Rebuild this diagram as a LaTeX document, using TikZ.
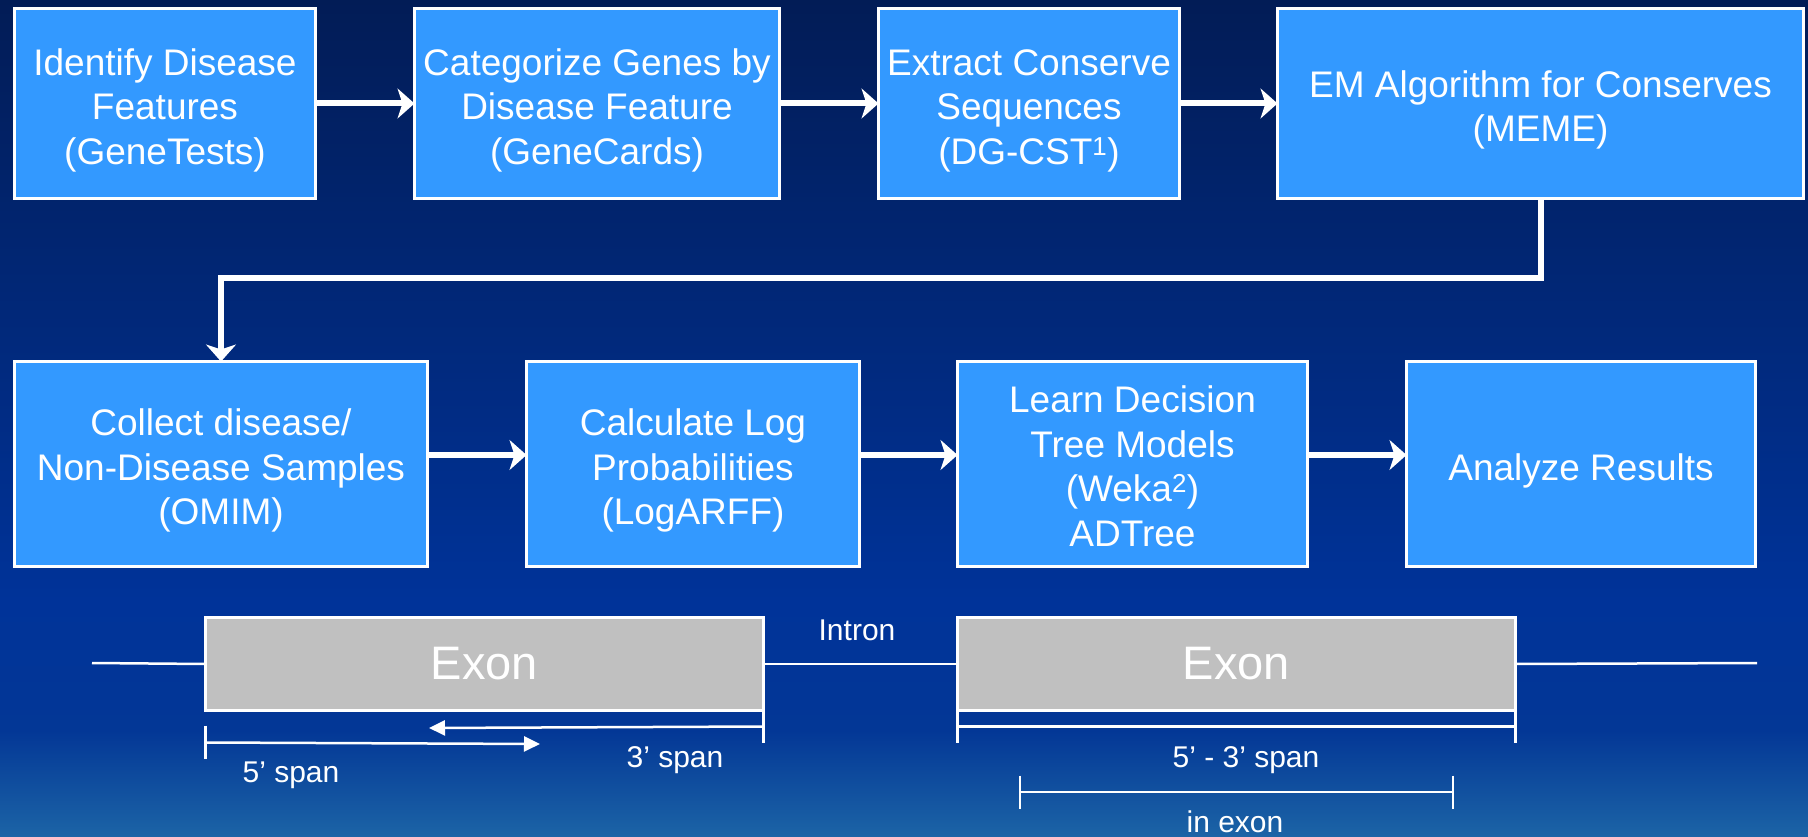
\documentclass[tikz,border=0pt]{standalone}
\usepackage{fontspec}
\setmainfont{Liberation Sans}
\usetikzlibrary{arrows.meta}
\definecolor{boxblue}{RGB}{51,153,255}
\definecolor{bgtop}{RGB}{2,28,86}
\definecolor{bgmid}{RGB}{0,51,153}
\definecolor{bgmidb}{RGB}{3,55,150}
\definecolor{bgbot}{RGB}{28,100,166}
\definecolor{exongray}{RGB}{192,192,192}
\newcommand{\toppad}{\rule{0pt}{40pt}}
\newcommand{\smallpad}{\rule{0pt}{31pt}}
\begin{document}
\begin{tikzpicture}[x=1pt,y=-1pt,
  stepbox/.style={draw=white, line width=3pt, fill=boxblue, text=white, align=center,
    inner sep=0pt, outer sep=0pt, font=\fontsize{37}{44.5}\selectfont},
  exonbox/.style={draw=white, line width=3pt, fill=exongray, text=white, inner sep=0pt,
    outer sep=0pt, minimum width=558pt, minimum height=93pt, font=\fontsize{47}{52}\selectfont},
  bigarrow/.style={draw=white, line width=6pt, -{Stealth[length=17pt,width=30pt,inset=5pt]}},
  spanline/.style={draw=white, line width=2.5pt},
  smallarrow/.style={spanline, -{Triangle[length=16pt,width=15pt]}},
  lbl/.style={text=white, inner sep=0pt, font=\fontsize{30}{34}\selectfont}
]
\useasboundingbox (0,0) rectangle (1808,837);
\shade[top color=bgtop, bottom color=bgmid] (0,0) rectangle (1808,601);
\shade[top color=bgmid, bottom color=bgmidb] (0,600) rectangle (1808,731);
\shade[top color=bgmidb, bottom color=bgbot] (0,730) rectangle (1808,837);

% row 1
\node[stepbox, minimum width=301pt, minimum height=190pt] (b1) at (165,103.5)
  {\toppad Identify Disease\\Features\\(GeneTests)};
\node[stepbox, minimum width=365pt, minimum height=190pt] (b2) at (597,103.5)
  {\toppad Categorize Genes by\\Disease Feature\\(GeneCards)};
\node[stepbox, minimum width=301pt, minimum height=190pt] (b3) at (1029,103.5)
  {\toppad Extract Conserve\\Sequences\\(DG-CST\textsuperscript{1})};
\node[stepbox, minimum width=526pt, minimum height=190pt] (b4) at (1540.5,103.5)
  {\toppad EM Algorithm for Conserves\\(MEME)};
% row 2
\node[stepbox, minimum width=413pt, minimum height=205pt] (b5) at (221,464)
  {\toppad Collect disease/\\Non-Disease Samples\\(OMIM)};
\node[stepbox, minimum width=333pt, minimum height=205pt] (b6) at (693,464)
  {\toppad Calculate Log\\Probabilities\\(LogARFF)};
\node[stepbox, minimum width=350pt, minimum height=205pt] (b7) at (1132.5,464)
  {\smallpad Learn Decision\\Tree Models\\(Weka\textsuperscript{2})\\ADTree};
\node[stepbox, minimum width=349pt, minimum height=205pt] (b8) at (1581,464)
  {\toppad Analyze Results};

\draw[bigarrow] (b1.east) -- (b2.west);
\draw[bigarrow] (b2.east) -- (b3.west);
\draw[bigarrow] (b3.east) -- (b4.west);
\draw[bigarrow] (b4.south) -- ++(0,80) -| (b5.north);
\draw[bigarrow] ([yshift=9pt]b5.east) -- ([yshift=9pt]b6.west);
\draw[bigarrow] ([yshift=9pt]b6.east) -- ([yshift=9pt]b7.west);
\draw[bigarrow] ([yshift=9pt]b7.east) -- ([yshift=9pt]b8.west);

% gene structure
\coordinate (lineL) at (92,663);
\coordinate (lineR) at (1757,663);
\node[exonbox] (e1) at (484.5,664) {Exon};
\node[exonbox] (e2) at (1236.5,664) {Exon};
\draw[spanline] (lineL) -- (e1.west);
\draw[spanline] (e1.east) -- (e2.west);
\draw[spanline] (e2.east) -- (lineR);
\node[lbl] (intron) at (857,630) {Intron};

% spans under first exon
\coordinate (tipL) at (429,728);
\coordinate (tipR) at (540,744);
\draw[spanline] (e1.south east) -- ++(0,32);
\draw[smallarrow] ([yshift=-16pt]e1.south east) -- (tipL);
\draw[spanline] ([yshift=-15pt]e1.south west) -- ++(0,33);
\draw[smallarrow] ([yshift=-32pt]e1.south west) -- (tipR);
\node[lbl] (s5) at (291,775) {5’ span};
\node[lbl] (s3) at (675,760) {3’ span};

% spans under second exon
\draw[spanline] (e2.south west) -- ++(0,32);
\draw[spanline] (e2.south east) -- ++(0,32);
\draw[spanline] ([yshift=-16pt]e2.south west) -- ([yshift=-16pt]e2.south east);
\node[lbl] (s53) at (1246,760) {5’ - 3’ span};
\coordinate (inL) at (1020,792);
\coordinate (inR) at (1453,792);
\draw[spanline] (inL) -- (inR);
\draw[spanline] ([yshift=16.5pt]inL) -- ([yshift=-16.5pt]inL);
\draw[spanline] ([yshift=16.5pt]inR) -- ([yshift=-16.5pt]inR);
\node[lbl] (inexon) at (1235,822) {in exon};
\end{tikzpicture}
\end{document}
